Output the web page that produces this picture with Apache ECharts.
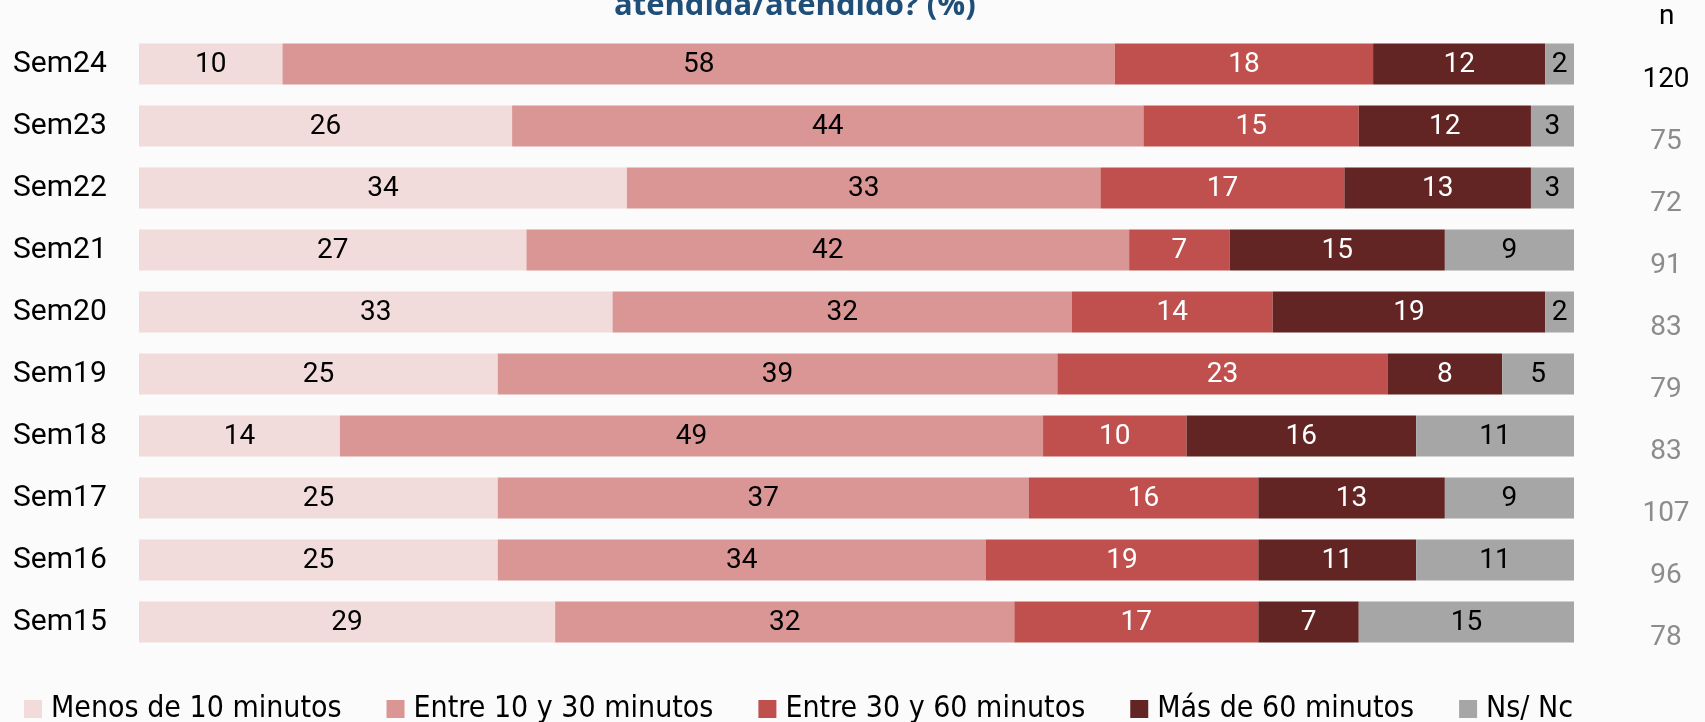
<!DOCTYPE html>
<html>
<head>
<meta charset="utf-8">
<script src="https://cdn.jsdelivr.net/npm/echarts@6/dist/echarts.min.js"></script>
<style>
html,body{margin:0;padding:0;background:#fbfbfb;}
#c{width:1705px;height:722px;}
</style>
</head>
<body>
<div id="c"></div>
<script>
const categories = ['Sem24','Sem23','Sem22','Sem21','Sem20','Sem19','Sem18','Sem17','Sem16','Sem15'];
const seriesNames = ['Menos de 10 minutos','Entre 10 y 30 minutos','Entre 30 y 60 minutos','Más de 60 minutos','Ns/ Nc'];
const menos10 = [10,26,34,27,33,25,14,25,25,29];
const entre10y30 = [58,44,33,42,32,39,49,37,34,32];
const entre30y60 = [18,15,17,7,14,23,10,16,19,17];
const mas60 = [12,12,13,15,19,8,16,13,11,7];
const nsnc = [2,3,3,9,2,5,11,9,11,15];
const nValues = ['120','75','72','91','83','79','83','107','96','78'];
const colors = ['#F2DCDB','#DA9694','#C0504D','#632523','#A6A6A6'];
const labelColors = ['#000','#000','#fff','#fff','#000'];
const values = [menos10, entre10y30, entre30y60, mas60, nsnc];

const font = 'Roboto, "Liberation Sans", Arial, sans-serif';
const chart = echarts.init(document.getElementById('c'));
chart.setOption({
  animation:false,
  backgroundColor:'#fbfbfb',
  title:{
    text:'atendida/atendido? (%)',
    left:609, top:-14,
    textStyle:{color:'#1F4E79', fontSize:31, fontWeight:'bold', fontFamily:'"Open Sans", "Noto Sans", sans-serif'}
  },
  graphic:[{type:'text', left:1659, top:3, style:{text:'n', fontSize:28, fill:'#000', fontFamily:font}}],
  legend:{
    left:24, top:694, padding:0, itemWidth:18, itemHeight:18, itemGap:45,
    icon:'rect',
    textStyle:{fontSize:30, color:'#000', fontFamily:'"DejaVu Sans Condensed", sans-serif', padding:[0,0,0,4]},
    data:seriesNames
  },
  grid:{left:139, right:131, top:33, bottom:69},
  xAxis:{type:'value', min:0, max:100, show:false},
  yAxis:[{
    type:'category', data:categories, inverse:true,
    axisLine:{show:false}, axisTick:{show:false},
    axisLabel:{align:'left', margin:126, fontSize:30, color:'#000', fontFamily:font}
  },{
    type:'category', data:nValues, inverse:true, position:'right',
    axisLine:{show:false}, axisTick:{show:false},
    axisLabel:{align:'center', margin:92, verticalAlign:'top', lineHeight:32,
      formatter:(v,i)=> i===0 ? '{b|'+v+'}' : '{g|'+v+'}',
      rich:{b:{fontSize:28,color:'#000',fontFamily:font,lineHeight:32}, g:{fontSize:28,color:'#8c8c8c',fontFamily:font,lineHeight:32}}
    }
  }],
  series: seriesNames.map((name,k)=>({
    name, type:'bar', stack:'total', yAxisIndex:0,
    barWidth:41,
    itemStyle:{color:colors[k]},
    label:{show:true, position:'inside', color:labelColors[k], fontSize:28, fontFamily:font, offset:[0,1]},
    data: values[k]
  }))
});
</script>
</body>
</html>
